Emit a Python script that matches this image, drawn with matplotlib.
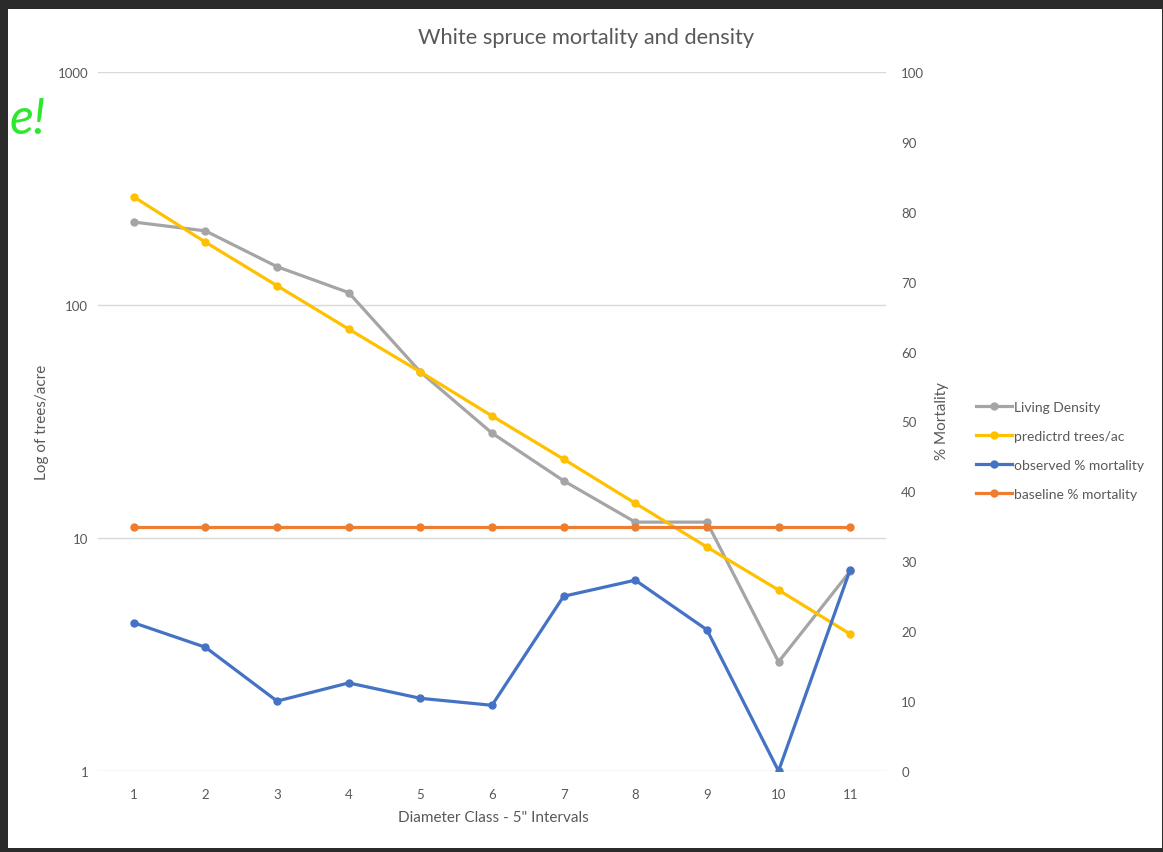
import matplotlib
matplotlib.use("Agg")
import matplotlib.pyplot as plt
from matplotlib.ticker import FixedLocator, FixedFormatter, NullLocator

plt.rcParams['font.family'] = ['Lato', 'DejaVu Sans']

# Diameter classes (5" intervals)
diameter_class = [1, 2, 3, 4, 5, 6, 7, 8, 9, 10, 11]

# Trees per acre (left, log axis)
living_density = [227, 208, 146, 113, 51.6, 28.2, 17.6, 11.7, 11.7, 2.94, 7.2]
predicted_trees = [291, 186, 121, 78.8, 51.6, 33.4, 21.8, 14.1, 9.15, 5.98, 3.87]

# Mortality in percent (right axis)
observed_mortality = [21.2, 17.7, 10.0, 12.6, 10.4, 9.4, 25.0, 27.3, 20.2, 0.0, 28.8]
baseline_mortality = [34.9] * 11

left_ticks = [1, 10, 100, 1000]
left_tick_labels = ["1", "10", "100", "1000"]
right_ticks = [0, 10, 20, 30, 40, 50, 60, 70, 80, 90, 100]

C_GRAY = "#A5A5A5"
C_YELLOW = "#FFC000"
C_BLUE = "#4472C4"
C_ORANGE = "#ED7D31"
TXT = "#595959"

W, H = 1163, 853
fig = plt.figure(figsize=(W / 100, H / 100), dpi=100)
fig.patch.set_facecolor("#2b2b2b")

# white page area inside the dark window frame
page = fig.add_axes([8 / W, 4 / H, (1162 - 8) / W, (843 - 4) / H])
page.set_facecolor("white")
page.set_xticks([]); page.set_yticks([])
for s in page.spines.values():
    s.set_visible(False)

ax = fig.add_axes([98 / W, 1 - 772 / H, (886 - 98) / W, (772 - 73) / H])
ax.set_facecolor("none")
ax.set_yscale("log")
ax.set_ylim(1, 1000)
ax.set_xlim(0.5, 11.5)
ax.yaxis.set_major_locator(FixedLocator(left_ticks))
ax.yaxis.set_major_formatter(FixedFormatter(left_tick_labels))
ax.yaxis.set_minor_locator(NullLocator())
ax.set_xticks(diameter_class)
ax.grid(axis="y", color="#D9D9D9", lw=1.0)
ax.set_axisbelow(True)
for s in ax.spines.values():
    s.set_visible(False)
ax.tick_params(axis="both", length=0, labelsize=9.5, labelcolor=TXT)
ax.tick_params(axis="x", pad=12)
ax.tick_params(axis="y", pad=7)

ax2 = ax.twinx()
ax2.set_ylim(0, 100)
ax2.set_yticks(right_ticks)
for s in ax2.spines.values():
    s.set_visible(False)
ax2.tick_params(axis="y", length=0, labelsize=9.5, labelcolor=TXT, pad=11)

lw, ms = 2.3, 5
l1, = ax.plot(diameter_class, living_density, color=C_GRAY, lw=lw, marker="o", ms=ms,
              label="Living Density", zorder=3)
l2, = ax.plot(diameter_class, predicted_trees, color=C_YELLOW, lw=lw, marker="o", ms=ms,
              label="predictrd trees/ac", zorder=4)
l4, = ax2.plot(diameter_class, baseline_mortality, color=C_ORANGE, lw=lw, marker="o", ms=ms,
               label="baseline % mortality", zorder=3)
l3, = ax2.plot(diameter_class, observed_mortality, color=C_BLUE, lw=lw, marker="o", ms=ms,
               label="observed % mortality", zorder=3)

fig.text(586 / W, 1 - 38 / H, "White spruce mortality and density", ha="center",
         va="center", fontsize=15.7, color=TXT)
fig.text(493 / W, 1 - 818 / H, 'Diameter Class - 5" Intervals', ha="center",
         va="center", fontsize=11, color=TXT)
fig.text(42 / W, 1 - 422 / H, "Log of trees/acre", ha="center", va="center",
         rotation=90, fontsize=11, color=TXT)
fig.text(942 / W, 1 - 421 / H, "% Mortality", ha="center", va="center",
         rotation=90, fontsize=11, color=TXT)

leg = fig.legend(handles=[l1, l2, l3, l4], loc="upper left",
                 bbox_to_anchor=(976 / W, 1 - 402 / H), frameon=False,
                 fontsize=10, handlelength=2.6, handletextpad=0.1,
                 labelspacing=1.22, borderaxespad=0, borderpad=0)
for t in leg.get_texts():
    t.set_color(TXT)

# green pen mark in the top-left corner
fig.text(10 / W, 1 - 134 / H, "e!", ha="left", va="baseline", fontsize=36,
         color="#2EE82E", fontstyle="italic")

fig.savefig("out.png", dpi=100, facecolor=fig.get_facecolor())
